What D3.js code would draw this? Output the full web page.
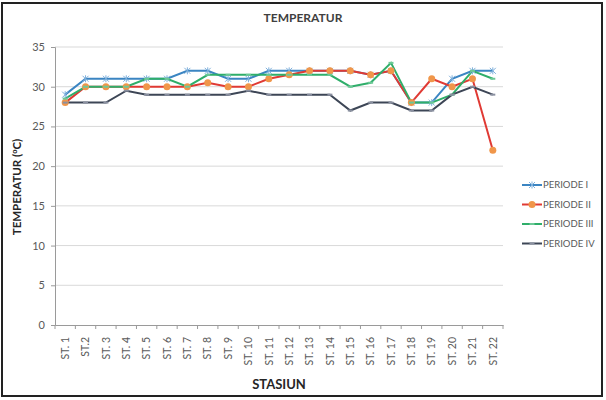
<!DOCTYPE html>
<html>
<head>
<meta charset="utf-8">
<script src="https://cdn.jsdelivr.net/npm/d3@7/dist/d3.min.js"></script>
<style>
  body { margin: 0; background: #fff; }
  text { font-family: Lato, "Open Sans", sans-serif; }
</style>
</head>
<body>
<div id="chart"></div>
<script>
var stations = ["ST. 1", "ST.2", "ST. 3", "ST. 4", "ST. 5", "ST. 6", "ST. 7", "ST. 8", "ST. 9", "ST. 10", "ST. 11",
    "ST. 12", "ST. 13", "ST. 14", "ST. 15", "ST. 16", "ST. 17", "ST. 18", "ST. 19", "ST. 20", "ST. 21", "ST. 22"];
var periode1 = [29, 31, 31, 31, 31, 31, 32, 32, 31, 31, 32, 32, 32, 32, 32, 31.5, 32, 28, 28, 31, 32, 32];
var periode2 = [28, 30, 30, 30, 30, 30, 30, 30.5, 30, 30, 31, 31.5, 32, 32, 32, 31.5, 32, 28, 31, 30, 31, 22];
var periode3 = [28.5, 30, 30, 30, 31, 31, 30, 31.5, 31.5, 31.5, 31.5, 31.5, 31.5, 31.5, 30, 30.5, 33, 28, 28, 29, 32, 31];
var periode4 = [28, 28, 28, 29.5, 29, 29, 29, 29, 29, 29.5, 29, 29, 29, 29, 27, 28, 28, 27, 27, 29, 30, 29];
var seriesNames = ["PERIODE I", "PERIODE II", "PERIODE III", "PERIODE IV"];
var yTicks = [0, 5, 10, 15, 20, 25, 30, 35];

var W = 606, H = 400;
var plot = {left: 55, right: 503, top: 47, bottom: 325};

var svg = d3.select("#chart").append("svg")
    .attr("width", W)
    .attr("height", H);

svg.append("rect")
    .attr("x", 2).attr("y", 3)
    .attr("width", 600).attr("height", 393)
    .attr("fill", "#fff")
    .attr("stroke", "#222")
    .attr("stroke-width", 2);

var x = d3.scaleBand().domain(stations).range([plot.left, plot.right]);
var y = d3.scaleLinear().domain([0, 35]).range([plot.bottom, plot.top]);

// gridlines
svg.append("g").selectAll("line")
    .data(yTicks.slice(1))
    .enter().append("line")
    .attr("x1", plot.left).attr("x2", plot.right)
    .attr("y1", function (d) { return y(d); })
    .attr("y2", function (d) { return y(d); })
    .attr("stroke", "#d9d9d9");

// y axis
var yAxis = svg.append("g")
    .attr("transform", "translate(" + plot.left + ",0)")
    .call(d3.axisLeft(y).tickValues(yTicks).tickSize(4).tickPadding(6));
yAxis.select(".domain").attr("stroke", "#9a9a9a");
yAxis.selectAll(".tick line").attr("stroke", "#9a9a9a");
yAxis.selectAll("text").attr("fill", "#595959").style("font-size", "11px");

// x axis
var xAxis = svg.append("g")
    .attr("transform", "translate(0," + plot.bottom + ")")
    .call(d3.axisBottom(x).tickSize(0).tickPadding(0));
xAxis.select(".domain").attr("stroke", "#9a9a9a");
xAxis.selectAll(".tick line").remove();
xAxis.selectAll("text")
    .attr("fill", "#595959")
    .style("font-size", "10.5px")
    .style("text-anchor", "end")
    .attr("transform", "rotate(-90)")
    .attr("x", -12).attr("y", 0).attr("dy", "0.35em");
svg.append("g").selectAll("line")
    .data(d3.range(stations.length + 1))
    .enter().append("line")
    .attr("x1", function (i) { return plot.left + i * x.bandwidth(); })
    .attr("x2", function (i) { return plot.left + i * x.bandwidth(); })
    .attr("y1", plot.bottom).attr("y2", plot.bottom + 4)
    .attr("stroke", "#9a9a9a");

var cx = function (d, i) { return x(stations[i]) + x.bandwidth() / 2; };
var line = d3.line().x(cx).y(function (d) { return y(d); });

var lineColors = ["#3b85c2", "#e03a34", "#2fae6a", "#3d4656"];
var allSeries = [periode1, periode2, periode3, periode4];

allSeries.forEach(function (s, k) {
    svg.append("path")
        .datum(s)
        .attr("d", line)
        .attr("fill", "none")
        .attr("stroke", lineColors[k])
        .attr("stroke-width", 2);
});

// markers
function drawMarker(g, k, px, py) {
    if (k === 0) {
        g.append("path")
            .attr("d", "M" + (px - 3) + "," + (py - 3) + "L" + (px + 3) + "," + (py + 3) +
                "M" + (px - 3) + "," + (py + 3) + "L" + (px + 3) + "," + (py - 3) +
                "M" + px + "," + (py - 3.5) + "L" + px + "," + (py + 3.5))
            .attr("stroke", "#7fb0dc").attr("stroke-width", 1);
    } else if (k === 1) {
        g.append("circle").attr("cx", px).attr("cy", py).attr("r", 3.5)
            .attr("fill", "#f0964a");
    } else if (k === 2) {
        g.append("path")
            .attr("d", "M" + (px - 2.5) + "," + py + "L" + (px + 2.5) + "," + py)
            .attr("stroke", "#6cc996").attr("stroke-width", 2);
    } else {
        g.append("path")
            .attr("d", "M" + (px - 2.5) + "," + py + "L" + (px + 2.5) + "," + py)
            .attr("stroke", "#8a90a0").attr("stroke-width", 2);
    }
}

allSeries.forEach(function (s, k) {
    var g = svg.append("g");
    s.forEach(function (v, i) { drawMarker(g, k, cx(v, i), y(v)); });
});

// legend
var legend = svg.selectAll(".legend")
    .data(seriesNames)
    .enter().append("g")
    .attr("class", "legend")
    .attr("transform", function (d, i) { return "translate(522," + (185 + i * 19.5) + ")"; });

legend.append("line")
    .attr("x1", 0).attr("x2", 20)
    .attr("stroke", function (d, i) { return lineColors[i]; })
    .attr("stroke-width", 2);
legend.each(function (d, i) { drawMarker(d3.select(this), i, 10, 0); });
legend.append("text")
    .attr("x", 21).attr("y", 0).attr("dy", "0.35em")
    .attr("fill", "#595959")
    .style("font-size", "9.5px")
    .text(function (d) { return d; });

// titles
svg.append("text")
    .attr("x", 303).attr("y", 22)
    .attr("text-anchor", "middle")
    .style("font-size", "12px").style("font-weight", "bold")
    .attr("fill", "#404040")
    .text("TEMPERATUR");

svg.append("text")
    .attr("x", 279).attr("y", 389)
    .attr("text-anchor", "middle")
    .style("font-size", "13px").style("font-weight", "bold")
    .attr("fill", "#262626")
    .text("STASIUN");

var yt = svg.append("text")
    .attr("transform", "translate(21,187) rotate(-90)")
    .attr("text-anchor", "middle")
    .style("font-size", "11.5px").style("font-weight", "bold")
    .attr("fill", "#262626");
yt.append("tspan").text("TEMPERATUR (");
yt.append("tspan").attr("baseline-shift", "super").style("font-size", "7.5px").text("o");
yt.append("tspan").text("C)");
</script>
</body>
</html>
